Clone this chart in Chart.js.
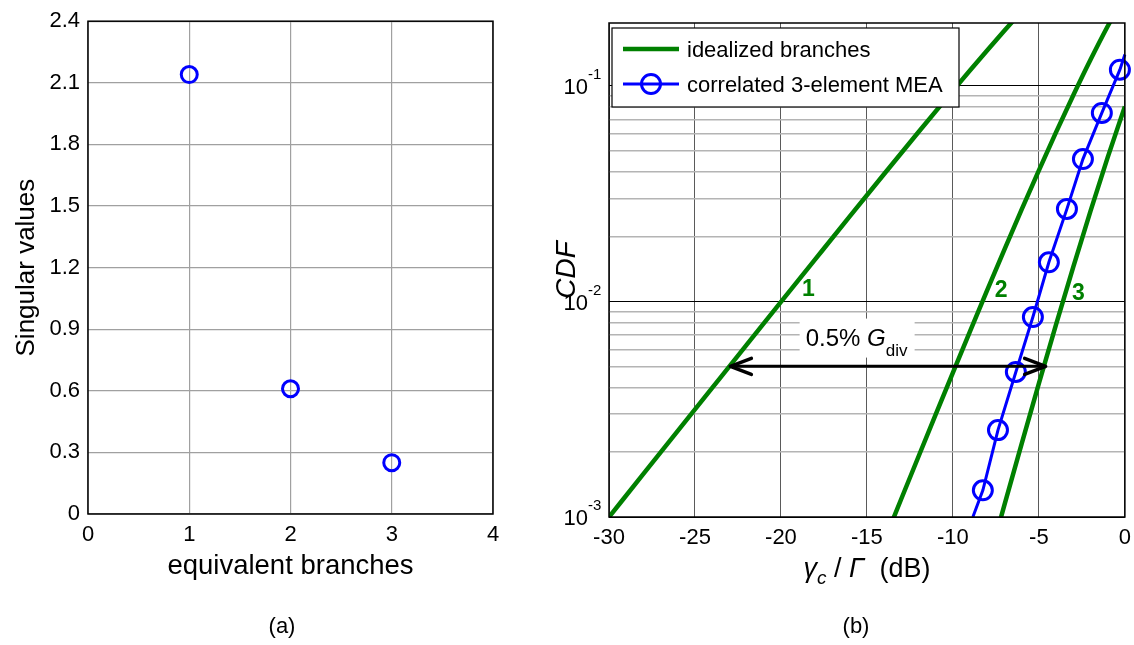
<!DOCTYPE html>
<html>
<head>
<meta charset="utf-8">
<script src="https://cdn.jsdelivr.net/npm/chart.js@4.4.1/dist/chart.umd.min.js"></script>
<style>
  html, body { margin: 0; padding: 0; background: #fff; width: 1134px; height: 645px; overflow: hidden; }
  #wrapA { position: absolute; left: 0; top: 0; width: 545px; height: 645px; }
  #wrapB { position: absolute; left: 545px; top: 0; width: 594px; height: 645px; }
</style>
</head>
<body>
<div id="wrapA"><canvas id="svChart"></canvas></div>
<div id="wrapB"><canvas id="cdfChart"></canvas></div>
<script>
// ---- (a) singular values of the correlation matrix ----
const branchIndex = [1, 2, 3];
const singularValues = [2.14, 0.61, 0.25];
const branchTicks = [0, 1, 2, 3, 4];
const svTicks = [0, 0.3, 0.6, 0.9, 1.2, 1.5, 1.8, 2.1, 2.4];
const svTickLabels = ['0', '0.3', '0.6', '0.9', '1.2', '1.5', '1.8', '2.1', '2.4'];

// ---- (b) CDF of the combined SNR ----
const snrTicks = [-30, -25, -20, -15, -10, -5, 0];
const cdfTicks = [0.001, 0.002, 0.003, 0.004, 0.005, 0.006, 0.007, 0.008, 0.009,
                  0.01, 0.02, 0.03, 0.04, 0.05, 0.06, 0.07, 0.08, 0.09, 0.1];
const cdfDecades = [0.001, 0.01, 0.1];
const cdfDecadeExp = ['-3', '-2', '-1'];

// idealized (uncorrelated) branches: 1, 2 and 3 branches
const branch1Db  = [-30, -28, -26, -24, -22, -20, -18, -16, -14, -12, -10, -9, -8, -7, -6];
const branch1Cdf = [0.0009995, 0.001584, 0.002509, 0.003973, 0.00629, 0.00995, 0.01572, 0.02481,
                    0.03903, 0.06115, 0.09516, 0.11829, 0.14657, 0.18088, 0.22213];
const branch2Db  = [-14, -13, -12, -11, -10, -9, -8, -7, -6, -5, -4, -3, -2, -1, 0];
const branch2Cdf = [0.000772, 0.001215, 0.001909, 0.002993, 0.004679, 0.007289, 0.01131, 0.017446,
                    0.026731, 0.04061, 0.06105, 0.09056, 0.1322, 0.18917, 0.26424];
const branch3Db  = [-9, -8, -7, -6, -5, -4, -3, -2, -1, 0];
const branch3Cdf = [0.000303, 0.000589, 0.001141, 0.002191, 0.004166, 0.007825, 0.014478,
                    0.026284, 0.046611, 0.080301];

// correlated 3-element MEA (markers on the measured points only)
const meaDb     = [-8.84, -8.26, -7.38, -6.34, -5.35, -4.42, -3.37, -2.44, -1.34, -0.29, 0];
const meaCdf    = [0.001, 0.00133, 0.00253, 0.00471, 0.00847, 0.0152, 0.0269, 0.0458, 0.075, 0.119, 0.14];
const meaMarker = [false, true, true, true, true, true, true, true, true, true, false];

// diversity gain at the 0.5 % level
const gdivLevel = 0.005;
const gdivFromDb = -23.0;
const gdivToDb = -4.55;

const FONT = "'Liberation Sans', Arial, Helvetica, sans-serif";
const GREEN = 'rgb(0,128,0)';
const BLUE = 'rgb(0,0,255)';

const toPts = (xs, ys) => xs.map((x, i) => ({ x: x, y: ys[i] }));

// black box around the plotting area
const framePlugin = {
  id: 'frame',
  afterDatasetsDraw(chart) {
    const { ctx, chartArea: a } = chart;
    ctx.save();
    ctx.strokeStyle = '#000';
    ctx.lineWidth = 1.5;
    ctx.strokeRect(a.left, a.top, a.right - a.left, a.bottom - a.top);
    ctx.restore();
  }
};

// figure caption under each panel
const captionPlugin = {
  id: 'caption',
  afterDraw(chart, args, opts) {
    const ctx = chart.ctx;
    ctx.save();
    ctx.fillStyle = '#000';
    ctx.font = `22px ${FONT}`;
    ctx.textAlign = 'center';
    ctx.textBaseline = 'middle';
    ctx.fillText(opts.text, opts.x, opts.y);
    ctx.restore();
  }
};

// ---------------- panel (a) ----------------
new Chart(document.getElementById('svChart'), {
  type: 'scatter',
  data: {
    datasets: [{
      label: 'singular values',
      data: toPts(branchIndex, singularValues),
      pointStyle: 'circle',
      pointRadius: 8,
      pointBorderWidth: 3,
      pointBorderColor: BLUE,
      pointBackgroundColor: 'rgba(0,0,0,0)',
      showLine: false,
      clip: false
    }]
  },
  options: {
    responsive: true,
    maintainAspectRatio: false,
    animation: false,
    layout: { padding: { left: 0, top: 18, right: 52, bottom: 0 } },
    plugins: {
      legend: { display: false },
      tooltip: { enabled: false },
      caption: { text: '(a)', x: 282, y: 627 }
    },
    scales: {
      x: {
        type: 'linear', min: 0, max: 4,
        afterBuildTicks: s => { s.ticks = branchTicks.map(v => ({ value: v })); },
        afterFit: s => { s.height = 131; },
        ticks: { color: '#000', font: { family: FONT, size: 22 }, padding: 8, callback: v => String(v) },
        grid: { color: '#a0a0a0', lineWidth: 1.2, drawTicks: false },
        border: { display: false },
        title: { display: true, text: 'equivalent branches', color: '#000',
                 font: { family: FONT, size: 27.5 }, padding: { top: 0, bottom: 62 } }
      },
      y: {
        type: 'linear', min: 0, max: 2.4,
        afterBuildTicks: s => { s.ticks = svTicks.map(v => ({ value: v })); },
        afterFit: s => { s.width = 88; },
        ticks: { color: '#000', font: { family: FONT, size: 22 }, padding: 8,
                 callback: (v, i) => svTickLabels[i] },
        grid: { color: '#a0a0a0', lineWidth: 1.2, drawTicks: false },
        border: { display: false },
        title: { display: true, text: 'Singular values', color: '#000',
                 font: { family: FONT, size: 26 }, padding: { top: 11, bottom: 0 } }
      }
    }
  },
  plugins: [framePlugin, captionPlugin]
});

// ---------------- panel (b) ----------------

// y tick labels written as powers of ten
const decadeLabelPlugin = {
  id: 'decadeLabels',
  afterDraw(chart) {
    const { ctx, chartArea: a } = chart;
    const y = chart.scales.y;
    ctx.save();
    ctx.fillStyle = '#000';
    cdfDecades.forEach((v, i) => {
      const py = y.getPixelForValue(v);
      ctx.font = `22px ${FONT}`;
      ctx.textAlign = 'right';
      ctx.textBaseline = 'middle';
      ctx.fillText('10', a.left - 21, py + 2);
      ctx.font = `15px ${FONT}`;
      ctx.textAlign = 'left';
      ctx.fillText(cdfDecadeExp[i], a.left - 21, py - 11);
    });
    ctx.restore();
  }
};

// x axis title with italic symbols and a subscript
const snrTitlePlugin = {
  id: 'snrTitle',
  afterDraw(chart) {
    const { ctx, chartArea: a } = chart;
    const parts = [
      { t: '\u03B3', f: `italic 27px ${FONT}`, dy: 0 },
      { t: 'c', f: `italic 19px ${FONT}`, dy: 7 },
      { t: ' / ', f: `27px ${FONT}`, dy: 0 },
      { t: '\u0393', f: `italic 27px ${FONT}`, dy: 0 },
      { t: '  (dB)', f: `27px ${FONT}`, dy: 0 }
    ];
    ctx.save();
    ctx.fillStyle = '#000';
    ctx.textBaseline = 'alphabetic';
    ctx.textAlign = 'left';
    let total = 0;
    parts.forEach(p => { ctx.font = p.f; p.w = ctx.measureText(p.t).width; total += p.w; });
    let x = (a.left + a.right) / 2 - total / 2;
    const base = 577;
    parts.forEach(p => { ctx.font = p.f; ctx.fillText(p.t, x, base + p.dy); x += p.w; });
    ctx.restore();
  }
};

// curve numbers, the diversity-gain arrow and its label
const curveTags = [
  { text: '1', x: -18.4, y: 0.0113 },
  { text: '2', x: -7.2, y: 0.0112 },
  { text: '3', x: -2.7, y: 0.0109 }
];
const gdivLabelAt = { x: -15.6, y: 0.0068 };

const annotatePlugin = {
  id: 'annotate',
  afterDatasetsDraw(chart) {
    const { ctx } = chart;
    const xs = chart.scales.x, ys = chart.scales.y;
    ctx.save();

    // tags
    ctx.fillStyle = GREEN;
    ctx.font = `bold 23px ${FONT}`;
    ctx.textAlign = 'center';
    ctx.textBaseline = 'middle';
    curveTags.forEach(t => ctx.fillText(t.text, xs.getPixelForValue(t.x), ys.getPixelForValue(t.y)));

    // label with white background
    const cx = xs.getPixelForValue(gdivLabelAt.x);
    const cy = ys.getPixelForValue(gdivLabelAt.y);
    ctx.fillStyle = '#fff';
    ctx.fillRect(cx - 57, cy - 19, 115, 39);
    const parts = [
      { t: '0.5% ', f: `24px ${FONT}`, dy: 0 },
      { t: 'G', f: `italic 24px ${FONT}`, dy: 0 },
      { t: 'div', f: `17px ${FONT}`, dy: 10 }
    ];
    ctx.fillStyle = '#000';
    ctx.textAlign = 'left';
    ctx.textBaseline = 'alphabetic';
    let total = 0;
    parts.forEach(p => { ctx.font = p.f; p.w = ctx.measureText(p.t).width; total += p.w; });
    let x = cx - total / 2;
    parts.forEach(p => { ctx.font = p.f; ctx.fillText(p.t, x, cy + 8 + p.dy); x += p.w; });

    // double-headed arrow
    const py = ys.getPixelForValue(gdivLevel);
    const x1 = xs.getPixelForValue(gdivFromDb);
    const x2 = xs.getPixelForValue(gdivToDb);
    ctx.strokeStyle = '#000';
    ctx.lineWidth = 3;
    ctx.lineCap = 'round';
    ctx.lineJoin = 'round';
    ctx.beginPath();
    ctx.moveTo(x1 + 2, py);
    ctx.lineTo(x2 - 2, py);
    ctx.stroke();
    ctx.lineWidth = 3.5;
    ctx.beginPath();
    ctx.moveTo(x1 + 22, py - 8); ctx.lineTo(x1 + 1, py); ctx.lineTo(x1 + 22, py + 8);
    ctx.moveTo(x2 - 22, py - 8); ctx.lineTo(x2 - 1, py); ctx.lineTo(x2 - 22, py + 8);
    ctx.stroke();
    ctx.restore();
  }
};

// boxed legend in the upper-left corner of the axes
const boxLegendPlugin = {
  id: 'boxLegend',
  afterDraw(chart) {
    const { ctx, chartArea: a } = chart;
    const ds = chart.data.datasets;
    const entries = [ds[0], ds[3]];
    const left = a.left + 3, top = a.top + 5, w = 347, h = 79;
    ctx.save();
    ctx.fillStyle = '#fff';
    ctx.fillRect(left, top, w, h);
    ctx.strokeStyle = '#000';
    ctx.lineWidth = 1.2;
    ctx.strokeRect(left, top, w, h);
    entries.forEach((d, i) => {
      const y = top + 21 + i * 35;
      ctx.strokeStyle = d.borderColor;
      ctx.lineWidth = d.borderWidth;
      ctx.beginPath();
      ctx.moveTo(left + 11, y);
      ctx.lineTo(left + 67, y);
      ctx.stroke();
      if (d.legendMarker) {
        ctx.lineWidth = d.pointBorderWidth;
        ctx.beginPath();
        ctx.arc(left + 39, y, 9.5, 0, Math.PI * 2);
        ctx.stroke();
      }
      ctx.fillStyle = '#000';
      ctx.font = `22px ${FONT}`;
      ctx.textAlign = 'left';
      ctx.textBaseline = 'middle';
      ctx.fillText(d.label, left + 75, y + 2);
    });
    ctx.restore();
  }
};

const greenLine = (label, xs, ys) => ({
  label: label,
  data: toPts(xs, ys),
  showLine: true,
  borderColor: GREEN,
  borderWidth: 4.5,
  pointRadius: 0,
  cubicInterpolationMode: 'monotone',
  clip: 0
});

new Chart(document.getElementById('cdfChart'), {
  type: 'scatter',
  data: {
    datasets: [
      greenLine('idealized branches', branch1Db, branch1Cdf),
      greenLine('idealized branches', branch2Db, branch2Cdf),
      greenLine('idealized branches', branch3Db, branch3Cdf),
      {
        label: 'correlated 3-element MEA',
        data: toPts(meaDb, meaCdf),
        showLine: true,
        borderColor: BLUE,
        borderWidth: 3,
        tension: 0,
        pointStyle: 'circle',
        pointRadius: meaMarker.map(m => (m ? 9.5 : 0)),
        pointBorderWidth: 3,
        pointBorderColor: BLUE,
        pointBackgroundColor: 'rgba(0,0,0,0)',
        legendMarker: true,
        clip: false
      }
    ]
  },
  options: {
    responsive: true,
    maintainAspectRatio: false,
    animation: false,
    layout: { padding: { left: 0, top: 23, right: 0, bottom: 0 } },
    plugins: {
      legend: { display: false },
      tooltip: { enabled: false },
      caption: { text: '(b)', x: 311, y: 627 }
    },
    scales: {
      x: {
        type: 'linear', min: -30, max: 0,
        afterBuildTicks: s => { s.ticks = snrTicks.map(v => ({ value: v })); },
        afterFit: s => { s.height = 128; },
        ticks: { color: '#000', font: { family: FONT, size: 22 }, padding: 8, callback: v => String(v) },
        grid: { color: '#5a5a5a', lineWidth: 1, drawTicks: false },
        border: { display: false }
      },
      y: {
        type: 'logarithmic', min: 0.001, max: 0.196,
        afterBuildTicks: s => {
          s.ticks = cdfTicks.map(v => ({ value: v, major: cdfDecades.includes(v) }));
        },
        afterFit: s => { s.width = 64; },
        ticks: { display: false },
        grid: {
          drawTicks: false,
          color: c => (c.tick && c.tick.major ? '#000' : '#b4b4b4'),
          lineWidth: c => (c.tick && c.tick.major ? 1 : 1.5)
        },
        border: { display: false },
        title: { display: true, text: 'CDF', color: '#000',
                 font: { family: FONT, size: 28, style: 'italic' }, padding: { top: 5, bottom: 0 } }
      }
    }
  },
  plugins: [annotatePlugin, framePlugin, boxLegendPlugin, decadeLabelPlugin, snrTitlePlugin, captionPlugin]
});
</script>
</body>
</html>
